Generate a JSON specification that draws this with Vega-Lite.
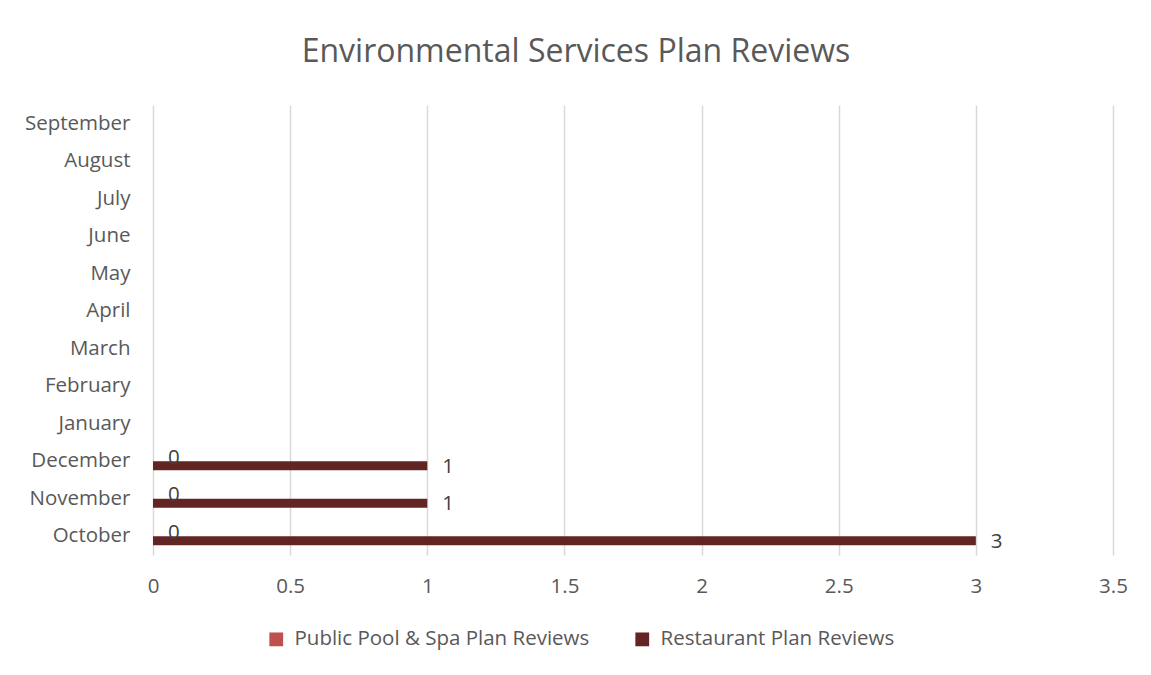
{
  "$schema": "https://vega.github.io/schema/vega-lite/v6.json",
  "autosize": {"type": "none"},
  "width": 960,
  "height": 450,
  "padding": {"left": 153, "top": 105, "right": 38, "bottom": 120},
  "background": "white",
  "title": {
    "text": "Environmental Services Plan Reviews",
    "fontSize": 32,
    "font": "Open Sans",
    "fontWeight": "normal",
    "color": "#595959",
    "anchor": "middle",
    "frame": "bounds",
    "offset": 36
  },
  "config": {
    "view": {"stroke": null},
    "font": "Open Sans"
  },
  "data": {
    "values": [
      {"month": "October", "series": "Public Pool & Spa Plan Reviews", "value": 0},
      {"month": "November", "series": "Public Pool & Spa Plan Reviews", "value": 0},
      {"month": "December", "series": "Public Pool & Spa Plan Reviews", "value": 0},
      {"month": "October", "series": "Restaurant Plan Reviews", "value": 3},
      {"month": "November", "series": "Restaurant Plan Reviews", "value": 1},
      {"month": "December", "series": "Restaurant Plan Reviews", "value": 1}
    ]
  },
  "encoding": {
    "y": {
      "field": "month",
      "type": "nominal",
      "scale": {
        "domain": ["September", "August", "July", "June", "May", "April", "March", "February", "January", "December", "November", "October"],
        "paddingInner": 0.52,
        "paddingOuter": 0.26
      },
      "axis": {
        "title": null,
        "domain": false,
        "ticks": false,
        "labelFontSize": 20.5,
        "labelColor": "#595959",
        "labelPadding": 23,
        "labelFont": "Open Sans",
        "labelLimit": 0
      }
    },
    "yOffset": {
      "field": "series",
      "type": "nominal",
      "scale": {"domain": ["Public Pool & Spa Plan Reviews", "Restaurant Plan Reviews"], "paddingInner": 0, "paddingOuter": 0}
    },
    "x": {
      "field": "value",
      "type": "quantitative",
      "scale": {"domain": [0, 3.5], "nice": false},
      "axis": {
        "title": null,
        "values": [0, 0.5, 1, 1.5, 2, 2.5, 3, 3.5],
        "format": "~g",
        "domain": false,
        "ticks": false,
        "grid": true,
        "gridColor": "#d9d9d9",
        "gridWidth": 1.5,
        "labelFontSize": 20.5,
        "labelColor": "#595959",
        "labelPadding": 21,
        "labelFont": "Open Sans",
        "labelFlush": false
      }
    }
  },
  "layer": [
    {
      "mark": {"type": "bar"},
      "encoding": {
        "color": {
          "field": "series",
          "type": "nominal",
          "scale": {"domain": ["Public Pool & Spa Plan Reviews", "Restaurant Plan Reviews"], "range": ["#C0504D", "#632523"]},
          "legend": {
            "title": null,
            "orient": "none",
            "direction": "horizontal",
            "legendX": 113,
            "legendY": 524,
            "symbolType": "square",
            "symbolSize": 190,
            "symbolStrokeWidth": 0,
            "labelFontSize": 20.5,
            "labelColor": "#595959",
            "labelFont": "Open Sans",
            "labelOffset": 8,
            "labelLimit": 0,
            "columnPadding": 42
          }
        }
      }
    },
    {
      "mark": {"type": "text", "align": "left", "baseline": "middle", "dx": 15, "dy": 1, "fontSize": 20.5, "color": "#404040", "font": "Open Sans"},
      "encoding": {"text": {"field": "value", "type": "quantitative"}}
    }
  ]
}
